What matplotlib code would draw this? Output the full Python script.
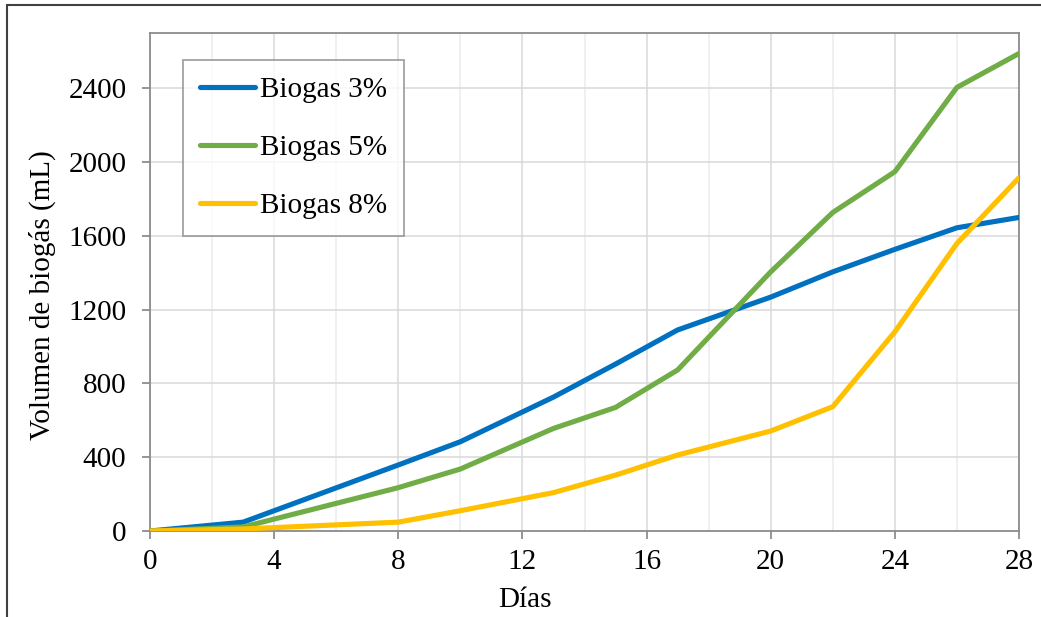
import numpy as np
import matplotlib
matplotlib.use("Agg")
import matplotlib.pyplot as plt
from matplotlib.patches import Rectangle
from matplotlib.ticker import MultipleLocator

# Volumen acumulado de biogás por día de ensayo
dias = [0, 3, 8, 10, 13, 15, 17, 20, 22, 24, 26, 28]
biogas_3 = [0, 48, 358, 484, 726, 905, 1090, 1268, 1405, 1527, 1644, 1700]
biogas_5 = [0, 22, 235, 336, 556, 670, 873, 1405, 1727, 1948, 2405, 2589]
biogas_8 = [0, 11, 48, 110, 208, 303, 412, 542, 674, 1080, 1559, 1915]

series = [("Biogas 3%", biogas_3, "#0070C0"),
          ("Biogas 5%", biogas_5, "#70AD47"),
          ("Biogas 8%", biogas_8, "#FFC000")]

plt.rcParams["font.family"] = ["Liberation Serif", "DejaVu Serif"]
plt.rcParams["font.size"] = 21

fig = plt.figure(figsize=(10.41, 6.17), dpi=100)
ax = fig.add_axes([150 / 1041, 1 - 531 / 617, 869 / 1041, 498 / 617])

for nombre, valores, color in series:
    ax.plot(dias, valores, color=color, lw=3.7, label=nombre,
            solid_capstyle="round", solid_joinstyle="round", zorder=3)

ax.set_xlim(0, 28)
ax.set_ylim(0, 2700)
ax.xaxis.set_major_locator(MultipleLocator(4))
ax.xaxis.set_minor_locator(MultipleLocator(2))
ax.yaxis.set_major_locator(MultipleLocator(400))

ax.grid(which="major", color="#d9d9d9", lw=1.1, zorder=0)
ax.grid(which="minor", axis="x", color="#ececec", lw=1.1, zorder=0)
ax.set_axisbelow(True)

for sp in ax.spines.values():
    sp.set_color("#8c8c8c")
    sp.set_linewidth(1.3)

ax.tick_params(which="major", direction="out", length=6, width=1.3,
               color="#8c8c8c", labelsize=21, labelcolor="black")
ax.tick_params(axis="y", pad=11)
ax.tick_params(axis="x", pad=7)
ax.tick_params(which="minor", length=0)

ax.set_xlabel("Días", fontsize=21, va="center")
ax.xaxis.set_label_coords(0.4315, -0.139)
ax.set_ylabel("Volumen de biogás (mL)", fontsize=21, va="center", ha="center")
ax.yaxis.set_label_coords(-0.124, 0.474)

leg = ax.legend(loc="upper left", bbox_to_anchor=(0.038, 0.946),
                borderaxespad=0, fancybox=False, frameon=True,
                edgecolor="#8c8c8c", handlelength=1.9, handletextpad=0.15,
                borderpad=0.58, labelspacing=1.08, fontsize=21)
leg.get_frame().set_linewidth(1.3)

# Marco exterior del gráfico
fig.patches.append(Rectangle((7 / 1041, -0.1), 1.2, 1.1 - 5 / 617,
                             transform=fig.transFigure, fill=False,
                             edgecolor="#404040", lw=1.5))

fig.savefig("out.png", dpi=100)
